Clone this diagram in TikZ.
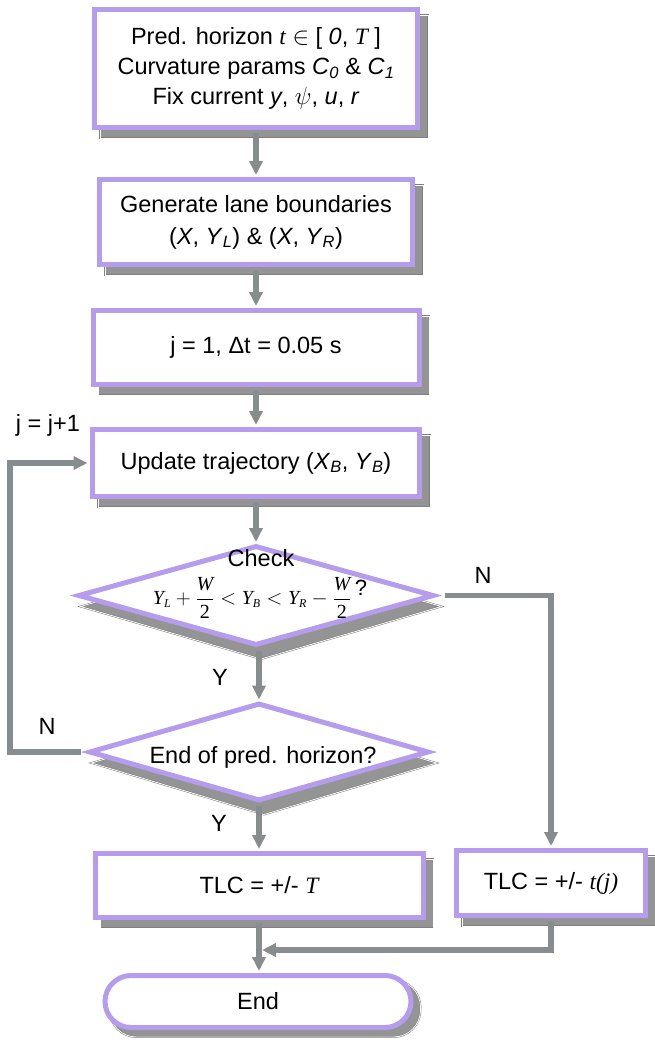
\documentclass[tikz,border=0pt]{standalone}
\usepackage{fontspec}
\setmainfont{Liberation Sans}
\newfontfamily\srf{Liberation Serif}
\usetikzlibrary{shapes.geometric,arrows.meta,calc,backgrounds}
\definecolor{purp}{HTML}{B59CEC}
\definecolor{arr}{HTML}{878C8F}
\definecolor{shd}{HTML}{949494}
\newcommand\mi[1]{\mbox{\srf\itshape #1}}
\newcommand\msb[1]{\mbox{\srf\itshape\fontsize{12}{12}\selectfont #1}}
\begin{document}
\begin{tikzpicture}[x=1pt,y=-1pt,
  every node/.style={font=\fontsize{23.5}{30}\selectfont, text=black},
  shdw/.style={fill=shd, draw=shd!85!black, double=white, double distance=0.8pt, line width=0.5pt},
  box/.style={rectangle, draw=purp, line width=5pt, fill=white, align=center, inner sep=0pt},
  dia/.style={diamond, draw=purp, line width=5pt, fill=white, inner sep=0pt},
  term/.style={rectangle, rounded corners=26pt, draw=purp, line width=5pt, fill=white, inner sep=0pt},
  conn/.style={draw=arr, line width=5.5pt},
  arrow/.style={conn, -{Triangle[width=13pt,length=14pt]}},
  lbl/.style={inner sep=0pt}
]
\useasboundingbox (0,0) rectangle (654,1042);

\node[box, minimum width=323pt, minimum height=118pt] (B1) at (256,68.5)
  {Pred. horizon {\srf\itshape t} $\in$ [ \textit{0}, {\srf\itshape T} ]\\
   Curvature params \textit{C}\textsubscript{\textit{0}} \& \textit{C}\textsubscript{\textit{1}}\\
   Fix current \textit{y}, $\psi$, \textit{u}, \textit{r}};

\node[box, minimum width=313pt, minimum height=85pt] (B2) at (256,222)
  {Generate lane boundaries\\[2pt]
   (\textit{X}, \textit{Y}\textsubscript{\textit{L}}) \& (\textit{X}, \textit{Y}\textsubscript{\textit{R}})};

\node[box, minimum width=326pt, minimum height=74pt] (B3) at (256,347.5)
  {j = 1, Δt = 0.05 s};

\node[box, minimum width=327pt, minimum height=67pt] (B4) at (256,463)
  {Update trajectory (\textit{X}\textsubscript{\textit{B}}, \textit{Y}\textsubscript{\textit{B}})};

\node[dia, minimum width=356pt, minimum height=100pt] (D1) at (256,595.5) {};
\node[lbl] (D1a) at (261,558) {Check};
\node[lbl] (D1b) at (260,598) {\fontsize{20}{24}\selectfont
  $\mi{Y}_{\msb{L}} + \displaystyle\frac{\mi{W}}{\mbox{\srf 2}} < \mi{Y}_{\msb{B}} < \mi{Y}_{\msb{R}} - \displaystyle\frac{\mi{W}}{\mbox{\srf 2}}$\,\raisebox{9pt}{\fontsize{22}{24}\selectfont ?}};

\node[dia, minimum width=340pt, minimum height=98pt] (D2) at (259,752) {};
\node[lbl] (D2a) at (263,757) {End of pred. horizon?};

\node[box, minimum width=328pt, minimum height=64pt] (TL) at (259,885.5)
  {TLC = +/- {\srf\itshape T}};
\node[box, minimum width=189pt, minimum height=65pt] (TR) at (551,883)
  {TLC = +/- {\srf\itshape t(j)}};

\node[term, minimum width=306pt, minimum height=52pt] (E) at (258,1001.5) {End};

% shadows
\begin{scope}[on background layer]
  \foreach \n in {B1,B2,B3,B4,TL,TR}{
    \filldraw[shdw] ([shift={(8pt,-8pt)}]\n.south west) rectangle ([shift={(8pt,-8pt)}]\n.north east);
  }
  \foreach \n in {D1,D2}{
    \filldraw[shdw] ([shift={(5pt,-11pt)}]\n.north) -- ([shift={(5pt,-11pt)}]\n.east)
      -- ([shift={(5pt,-11pt)}]\n.south) -- ([shift={(5pt,-11pt)}]\n.west) -- cycle;
  }
  \filldraw[shdw, rounded corners=27pt] ([shift={(7pt,-7pt)}]E.south west) rectangle ([shift={(7pt,-7pt)}]E.north east);
\end{scope}

% labels
\node[lbl] (Lj) at (48,425) {j = j+1};
\node[lbl] (LN1) at (47,726) {N};
\node[lbl] (LN2) at (483,575) {N};
\node[lbl] (LY1) at (220,677) {Y};
\node[lbl] (LY2) at (219,823) {Y};

% connectors
\draw[arrow, shorten <=2.5pt, shorten >=2pt] (B1.south) -- (B2.north);
\draw[arrow, shorten <=2.5pt, shorten >=2pt] (B2.south) -- (B3.north);
\draw[arrow, shorten <=2.5pt, shorten >=2pt] (B3.south) -- (B4.north);
\draw[arrow, shorten <=2.5pt, shorten >=1pt] (B4.south) -- (B4.south |- D1.north);
\draw[arrow, shorten <=2.5pt, shorten >=1pt] (D1.south -| D2.north) -- (D2.north);
\draw[arrow, shorten <=2.5pt, shorten >=2pt] (D2.south) -- (TL.north);
\draw[arrow, shorten <=2.5pt, shorten >=2pt] (TL.south) -- (TL.south |- E.north);
\coordinate (LC) at (10,752);
\draw[arrow, shorten >=2.5pt] ([xshift=-6pt]D2.west) -- (LC) |- (B4.west);
\draw[arrow, shorten >=2pt] ([xshift=8pt]D1.east) -| (TR.north);
\coordinate (MJ) at (262,950);
\draw[arrow, shorten <=2.5pt] (TR.south) |- (MJ);
\end{tikzpicture}
\end{document}
